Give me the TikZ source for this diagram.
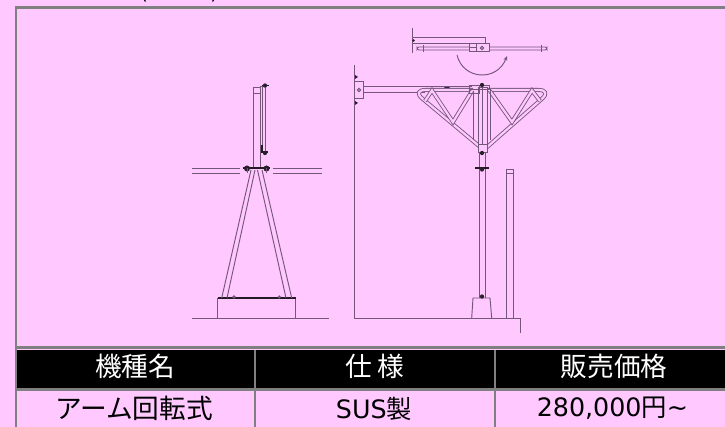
\documentclass[tikz,border=0pt]{standalone}
\usepackage{fontspec}
\setmainfont{DejaVu Sans}
\newfontfamily\jpfont{Noto Sans CJK JP}
\usetikzlibrary{arrows.meta}
\definecolor{pinkbg}{HTML}{FFC8FF}
\definecolor{framegray}{HTML}{808080}
\definecolor{linepen}{HTML}{74567A}
\tikzset{
  part/.style={draw=linepen,line width=0.7pt},
  heavy/.style={draw=black!70!linepen,line width=1.1pt},
  tube/.style={draw=linepen,line width=0.65pt,double=pinkbg,double distance=1.7pt},
  boltdot/.style={fill=black!65!linepen,draw=none,circle,inner sep=0pt,minimum size=3.2pt},
  cellline/.style={draw=framegray,line width=2pt},
  headcell/.style={text=white,inner sep=0pt,font=\jpfont\fontsize{20}{20}\selectfont},
  bodycell/.style={text=black,inner sep=0pt,font=\fontsize{19}{19}\selectfont}
}
\begin{document}
\begin{tikzpicture}[x=0.75pt,y=-0.75pt]
  \fill[pinkbg] (0,0) rectangle (725,427);
  \useasboundingbox (0,0) rectangle (725,427);
  \draw[black,line width=0.9pt] (144.5,0) -- (145.5,1.5);  \draw[black,line width=0.9pt] (213.5,0) -- (212.5,1.5);
  % table
  \fill[black] (16.5,350) rectangle (725,388.5);
  \draw[cellline] (725,7.7) -- (16,7.7) -- (16,427);
  \draw[cellline] (16,347.7) -- (725,347.7);  \draw[cellline] (16,389.8) -- (725,389.8);
  \draw[cellline] (255,350) -- (255,427);  \draw[cellline] (495,350) -- (495,427);
  \node[headcell] (headname) at (135,366.5) {機種名};
  \node[headcell] (headspec) at (375,366.5) {仕 様};
  \node[headcell] (headprice) at (614,366.5) {販売価格};
  \node[bodycell] (bodyname) at (134,408.5) {\jpfont\fontsize{20}{20}\selectfont アーム回転式};
  \node[bodycell] (bodyspec) at (374,408.5) {SUS{\jpfont 製}};
  \node[bodycell] (bodyprice) at (612.5,408.5) {280,000{\jpfont 円}\char`\~};
  % front view
  \draw[part] (192,318) -- (329,318);
  \draw[part] (217.7,318) -- (217.7,298);  \draw[part] (295.7,318) -- (295.7,298);
  \draw[heavy] (218,298) -- (295.5,298);
  \fill[linepen] (234,297) circle (1.8);  \fill[linepen] (279.3,297) circle (1.8);
  \draw[part] (251,170) -- (221.7,298);  \draw[part] (255,170) -- (227,298);
  \draw[part] (257.5,170) -- (286,298);  \draw[part] (262,170) -- (291.7,298);
  \draw[part] (192,168.5) -- (240,168.5);  \draw[part] (192,173.5) -- (240,173.5);
  \draw[part] (273,168.5) -- (322,168.5);  \draw[part] (273,173.5) -- (322,173.5);
  \draw[part] (253.5,168) -- (253.5,87) -- (260,87) -- (260,168);
  \draw[part] (253.5,93.5) -- (260,93.5);  \draw[part] (260,93.5) -- (260,86) -- (265,86);
  \draw[part] (262,86) -- (262,152);  \draw[part] (265.5,86) -- (265.5,152);
  \draw[heavy] (262,145) -- (262,152) -- (268,152);  \draw[heavy] (262,85.5) -- (268.5,85.5);
  \node[boltdot] (boltfronta) at (265,85.5) {};  \node[boltdot] (boltfrontb) at (265,153) {};
  \draw[heavy] (243,168) -- (270,168);
  \node[boltdot,minimum size=4.5pt] (boltfrontc) at (247,168.5) {};  \node[boltdot,minimum size=4.5pt] (boltfrontd) at (266.5,168.5) {};
  \draw[part] (247,168) -- (247,173);  \draw[part] (266.5,168) -- (266.5,173);
  % swing plan
  \draw[part] (412.5,28) -- (412.5,53);
  \draw[part] (412.5,37) -- (485.5,37) -- (485.5,43);
  \draw[part] (412.5,43) -- (469,43);
  \node[boltdot,minimum size=2pt] (boltplan) at (413.5,40.5) {};
  \draw[part,rounded corners=1.5] (469,47) -- (417,47) -- (417,50) -- (469,50);
  \draw[part,rounded corners=1.5] (489,47) -- (547,47) -- (547,50) -- (489,50);
  \draw[part] (469,43) rectangle (489,51);  \draw[part] (469,47) -- (476,47);  \draw[part] (476,43) -- (476,51);
  \draw[part] (482,48) circle (1.6);
  \draw[part] (423,45) -- (423,52);  \draw[part] (541,45) -- (541,52);
  \draw[part,-{Stealth[length=3.5pt,width=3pt]}] (457,55) .. controls (463,80) and (497,82) .. (507,56);
  % wall and arm
  \draw[part] (354,65) -- (354,318) -- (520,318) -- (520,333);
  \draw[part] (354,81.7) -- (363,81.7) -- (363,98) -- (354,98);
  \draw[part] (359,90) circle (1.6);
  \fill[black!65!linepen] (355,75) -- (358,77) -- (355,79) -- cycle;  \fill[black!65!linepen] (355,101) -- (358,103) -- (355,105) -- cycle;
  \draw[part] (363,86.7) -- (472,86.7);  \draw[part] (363,92.7) -- (425,92.7);
  \draw[part,fill=black!65!linepen] (444.5,86.5) rectangle (449.5,91.5);
  \fill[pinkbg] (446,88) rectangle (448,90);
  % truss
  \draw[tube,rounded corners=10] (473,90) -- (412,90) -- (479,146);
  \draw[tube,rounded corners=10] (486,90) -- (552,90) -- (486,148);
  \draw[tube] (425,101) -- (432,90.5) -- (453,122) -- (472,91);
  \draw[tube] (490,91) -- (512,122) -- (532,90.5) -- (540,101);
  \draw[part] (473,91) -- (473,140);  \draw[part] (490,89) -- (490,140);
  \draw[part,fill=pinkbg] (478,87) rectangle (487,152);  \draw[part] (482.7,85) -- (482.7,144);
  \draw[part] (478,144) -- (487,144);
  \draw[part] (469,85) rectangle (489,89);  \draw[part] (469,85) rectangle (479,93);
  \node[boltdot] (boltheada) at (482,85) {};  \node[boltdot] (boltheadb) at (482,153) {};
  % lower post
  \draw[part] (479.3,152) -- (479.3,298);  \draw[part] (485,152) -- (485,298);
  \draw[heavy] (475,168) -- (489,168);  \node[boltdot] (boltflange) at (482,169.5) {};
  \draw[part] (471.7,318) -- (473,298) -- (490,298) -- (491.7,318);
  \node[boltdot] (boltfoot) at (482,296.5) {};
  \draw[part] (506.3,318) -- (506.3,169) -- (513.7,169) -- (513.7,318);  \draw[part] (506.3,173.5) -- (513.7,173.5);
\end{tikzpicture}
\end{document}
